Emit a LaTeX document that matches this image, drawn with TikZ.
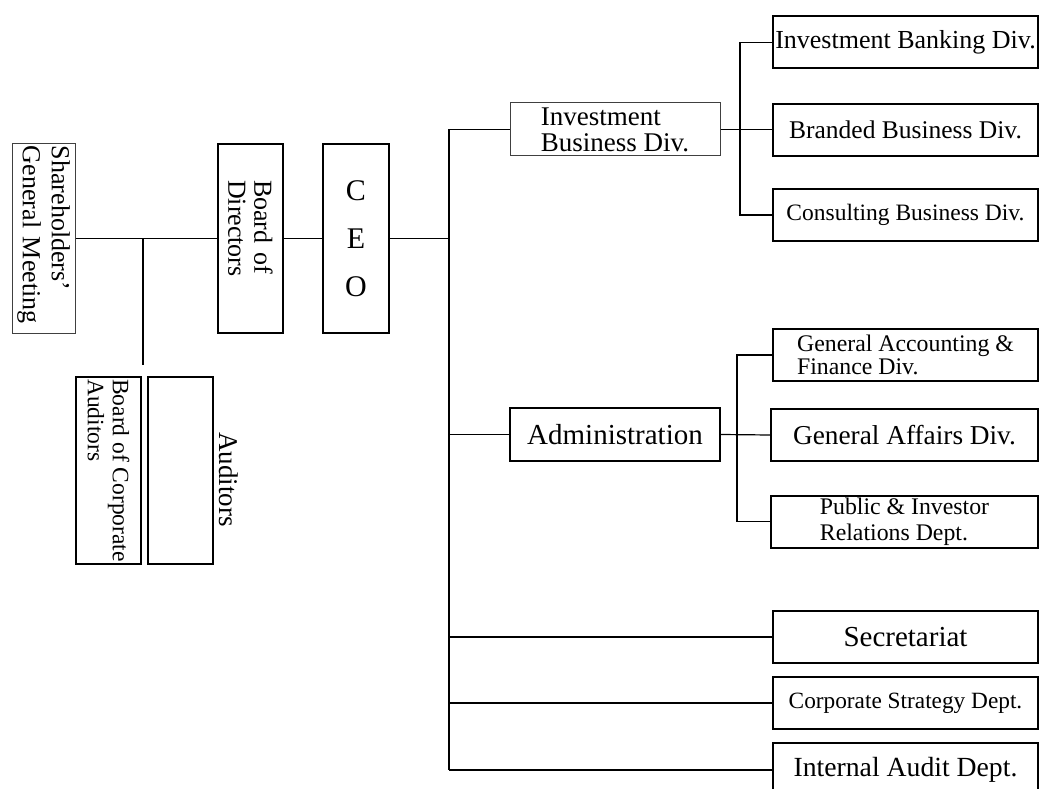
\documentclass[tikz,border=0pt]{standalone}
\usepackage{fontspec}
\setmainfont{Liberation Serif}
\newcommand{\fsz}[2]{\fontsize{#1}{#2}\selectfont}

\begin{document}
\begin{tikzpicture}[x=1pt,y=-1pt,
  thickbox/.style={draw, line width=2pt, rectangle, inner sep=0pt},
  thinbox/.style={draw=black!75, line width=1pt, rectangle, inner sep=0pt},
  unitbox/.style={thickbox, minimum width=265, minimum height=52},
  link/.style={line width=1.6pt},
  branch/.style={line width=1.2pt}]

\useasboundingbox (0,0) rectangle (1039,789);

% -------------------------------------------------
% Left side: meeting, board, CEO, auditors
% -------------------------------------------------
\node[thinbox, rotate=-90, minimum height=63, text width=185, inner xsep=2pt,
      align=left, font=\fsz{26}{29}] (share) at (43.5,238.5) {Shareholders'\\General Meeting};
\node[thickbox, rotate=-90, minimum height=65, text width=117, inner xsep=36pt,
      align=left, font=\fsz{26}{26}] (bod) at (250.5,238.5) {Board of\\Directors};
\node[thickbox, minimum width=66, minimum height=189,
      align=center, font=\fsz{30}{48}] (ceo) at (356,238.5) {C\\E\\O};
\node[thickbox, rotate=-90, minimum width=187, minimum height=65,
      align=left, font=\fsz{23.5}{25}] (bca) at (108.5,470.5) {Board of Corporate\\Auditors};
\node[thickbox, minimum width=65, minimum height=187] (aud) at (180.5,470.5) {};
\node[rotate=-90, inner sep=0pt, font=\fsz{27}{27}] (audtxt) at (229,479.5) {Auditors};

% -------------------------------------------------
% Middle: divisions under the CEO
% -------------------------------------------------
\node[thinbox, minimum width=210, minimum height=53,
      align=left, font=\fsz{27}{26}] (ibd) at (615,129.5) {Investment\\Business Div.};
\node[thickbox, minimum width=210, minimum height=53,
      font=\fsz{29}{29}] (adm) at (615,434.5) {Administration};

% -------------------------------------------------
% Right column
% -------------------------------------------------
\node[unitbox, font=\fsz{26}{26}] (ibk) at (905.5,42.5) {Investment Banking Div.};
\node[unitbox, font=\fsz{25.5}{25.5}] (bbd) at (905.5,130) {Branded Business Div.};
\node[unitbox, font=\fsz{23.5}{23.5}] (cbd) at (905.5,215) {Consulting Business Div.};
\node[unitbox, align=left, font=\fsz{23.8}{23}] (gaf) at (905.5,355) {General Accounting \&\\Finance Div.};
\node[unitbox, minimum width=267, font=\fsz{27.3}{27.3}] (gad) at (904.5,435) {General Affairs Div.};
\node[unitbox, minimum width=267, align=left, font=\fsz{23.8}{26}] (pir) at (904.5,521.5) {Public \& Investor\\Relations Dept.};
\node[unitbox, font=\fsz{29}{29}] (sec) at (905.5,637) {Secretariat};
\node[unitbox, font=\fsz{23.3}{23.3}] (csd) at (905.5,703) {Corporate Strategy Dept.};
\node[unitbox, minimum height=54, font=\fsz{27.7}{27.7}] (iad) at (905.5,770) {Internal Audit Dept.};

% -------------------------------------------------
% Connectors
% -------------------------------------------------
\coordinate (split) at (143,238.5);
\coordinate (audtop) at (143,365);
\coordinate (ceojoin) at (449,238.5);
\coordinate (trunktop) at (449,129.5);
\coordinate (invbar) at (740,0);
\coordinate (admbar) at (737,0);

\draw[link] (share) -- (bod);
\draw[link] (split) -- (audtop);
\draw[link] (bod) -- (ceo);
\draw[link] (ceo) -- (ceojoin);
\draw[link] (trunktop) -- (trunktop |- iad.west);
\foreach \n in {ibd,adm,sec,csd,iad}
  \draw[branch] (trunktop |- \n.west) -- (\n.west);

\draw[link] (ibd.east) -- (ibd.east -| bbd.west);
\draw[link] (ibk.west) -- (invbar |- ibk.west) -- (invbar |- cbd.west) -- (cbd.west);

\draw[branch] (adm.east) -- (gad.west);
\draw[branch] (gaf.west) -- (admbar |- gaf.west) -- (admbar |- pir.west) -- (pir.west);

\end{tikzpicture}
\end{document}
